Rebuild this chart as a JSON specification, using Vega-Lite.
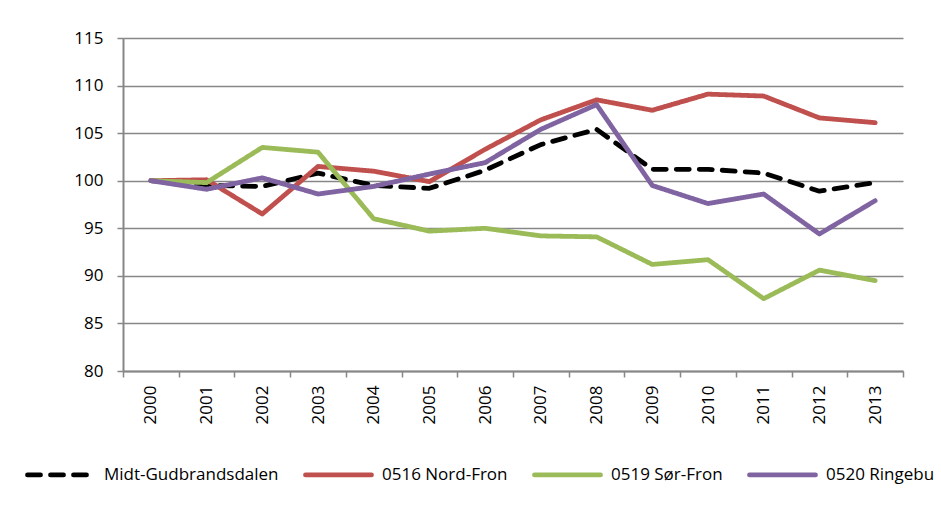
{
  "$schema": "https://vega.github.io/schema/vega-lite/v6.json",
  "width": 780,
  "height": 333,
  "autosize": "none",
  "padding": {"left": 123, "top": 38, "right": 38, "bottom": 151},
  "background": "white",
  "config": {
    "view": {"stroke": null},
    "font": "Open Sans",
    "axis": {"labelFont": "Open Sans", "labelFontSize": 17, "labelColor": "#000000", "titleFont": "Open Sans"},
    "legend": {"labelFont": "Open Sans"}
  },
  "data": {
    "values": [
      {"year": "2000", "series": "Midt-Gudbrandsdalen", "value": 100.0},
      {"year": "2001", "series": "Midt-Gudbrandsdalen", "value": 99.5},
      {"year": "2002", "series": "Midt-Gudbrandsdalen", "value": 99.4},
      {"year": "2003", "series": "Midt-Gudbrandsdalen", "value": 100.8},
      {"year": "2004", "series": "Midt-Gudbrandsdalen", "value": 99.5},
      {"year": "2005", "series": "Midt-Gudbrandsdalen", "value": 99.2},
      {"year": "2006", "series": "Midt-Gudbrandsdalen", "value": 101.1},
      {"year": "2007", "series": "Midt-Gudbrandsdalen", "value": 103.8},
      {"year": "2008", "series": "Midt-Gudbrandsdalen", "value": 105.4},
      {"year": "2009", "series": "Midt-Gudbrandsdalen", "value": 101.2},
      {"year": "2010", "series": "Midt-Gudbrandsdalen", "value": 101.2},
      {"year": "2011", "series": "Midt-Gudbrandsdalen", "value": 100.8},
      {"year": "2012", "series": "Midt-Gudbrandsdalen", "value": 98.9},
      {"year": "2013", "series": "Midt-Gudbrandsdalen", "value": 99.8},
      {"year": "2000", "series": "0516 Nord-Fron", "value": 100.0},
      {"year": "2001", "series": "0516 Nord-Fron", "value": 100.1},
      {"year": "2002", "series": "0516 Nord-Fron", "value": 96.5},
      {"year": "2003", "series": "0516 Nord-Fron", "value": 101.5},
      {"year": "2004", "series": "0516 Nord-Fron", "value": 101.0},
      {"year": "2005", "series": "0516 Nord-Fron", "value": 99.9},
      {"year": "2006", "series": "0516 Nord-Fron", "value": 103.3},
      {"year": "2007", "series": "0516 Nord-Fron", "value": 106.4},
      {"year": "2008", "series": "0516 Nord-Fron", "value": 108.5},
      {"year": "2009", "series": "0516 Nord-Fron", "value": 107.4},
      {"year": "2010", "series": "0516 Nord-Fron", "value": 109.1},
      {"year": "2011", "series": "0516 Nord-Fron", "value": 108.9},
      {"year": "2012", "series": "0516 Nord-Fron", "value": 106.6},
      {"year": "2013", "series": "0516 Nord-Fron", "value": 106.1},
      {"year": "2000", "series": "0519 Sør-Fron", "value": 100.0},
      {"year": "2001", "series": "0519 Sør-Fron", "value": 99.8},
      {"year": "2002", "series": "0519 Sør-Fron", "value": 103.5},
      {"year": "2003", "series": "0519 Sør-Fron", "value": 103.0},
      {"year": "2004", "series": "0519 Sør-Fron", "value": 96.0},
      {"year": "2005", "series": "0519 Sør-Fron", "value": 94.7},
      {"year": "2006", "series": "0519 Sør-Fron", "value": 95.0},
      {"year": "2007", "series": "0519 Sør-Fron", "value": 94.2},
      {"year": "2008", "series": "0519 Sør-Fron", "value": 94.1},
      {"year": "2009", "series": "0519 Sør-Fron", "value": 91.2},
      {"year": "2010", "series": "0519 Sør-Fron", "value": 91.7},
      {"year": "2011", "series": "0519 Sør-Fron", "value": 87.6},
      {"year": "2012", "series": "0519 Sør-Fron", "value": 90.6},
      {"year": "2013", "series": "0519 Sør-Fron", "value": 89.5},
      {"year": "2000", "series": "0520 Ringebu", "value": 100.0},
      {"year": "2001", "series": "0520 Ringebu", "value": 99.1},
      {"year": "2002", "series": "0520 Ringebu", "value": 100.3},
      {"year": "2003", "series": "0520 Ringebu", "value": 98.6},
      {"year": "2004", "series": "0520 Ringebu", "value": 99.4},
      {"year": "2005", "series": "0520 Ringebu", "value": 100.7},
      {"year": "2006", "series": "0520 Ringebu", "value": 101.9},
      {"year": "2007", "series": "0520 Ringebu", "value": 105.4},
      {"year": "2008", "series": "0520 Ringebu", "value": 108.0},
      {"year": "2009", "series": "0520 Ringebu", "value": 99.5},
      {"year": "2010", "series": "0520 Ringebu", "value": 97.6},
      {"year": "2011", "series": "0520 Ringebu", "value": 98.6},
      {"year": "2012", "series": "0520 Ringebu", "value": 94.4},
      {"year": "2013", "series": "0520 Ringebu", "value": 97.9}
    ]
  },
  "mark": {"type": "line", "strokeWidth": 4.8, "strokeCap": "round", "strokeJoin": "round"},
  "encoding": {
    "x": {
      "field": "year",
      "type": "ordinal",
      "bandPosition": 0.5,
      "scale": {"type": "band", "paddingInner": 0, "paddingOuter": 0},
      "axis": {
        "title": null,
        "labelAngle": -90,
        "labelPadding": 8,
        "tickBand": "extent",
        "tickSize": 6,
        "tickColor": "#878787",
        "tickWidth": 1.5,
        "domainColor": "#878787",
        "domainWidth": 2,
        "grid": false
      }
    },
    "y": {
      "field": "value",
      "type": "quantitative",
      "scale": {"domain": [80, 115], "nice": false, "zero": false},
      "axis": {
        "title": null,
        "values": [80, 85, 90, 95, 100, 105, 110, 115],
        "tickSize": 6,
        "tickColor": "#878787",
        "tickWidth": 1.5,
        "labelPadding": 14,
        "domainColor": "#878787",
        "domainWidth": 2,
        "gridColor": "#878787",
        "gridWidth": 1.5
      }
    },
    "color": {
      "field": "series",
      "type": "nominal",
      "sort": ["Midt-Gudbrandsdalen", "0516 Nord-Fron", "0519 Sør-Fron", "0520 Ringebu"],
      "scale": {
        "domain": ["Midt-Gudbrandsdalen", "0516 Nord-Fron", "0519 Sør-Fron", "0520 Ringebu"],
        "range": ["#000000", "#C0504D", "#9BBB59", "#8064A2"]
      },
      "legend": {
        "title": null,
        "orient": "none",
        "legendX": -98,
        "legendY": 401,
        "direction": "horizontal",
        "columns": 4,
        "padding": 0,
        "symbolType": "stroke",
        "symbolSize": 4356,
        "symbolStrokeWidth": 4.8,
        "labelFontSize": 17,
        "labelColor": "#000000",
        "labelOffset": 8,
        "labelLimit": 400,
        "columnPadding": 16,
        "encode": {"symbols": {"update": {"strokeCap": {"value": "round"}}}}
      }
    },
    "strokeDash": {
      "field": "series",
      "type": "nominal",
      "sort": ["Midt-Gudbrandsdalen", "0516 Nord-Fron", "0519 Sør-Fron", "0520 Ringebu"],
      "scale": {
        "domain": ["Midt-Gudbrandsdalen", "0516 Nord-Fron", "0519 Sør-Fron", "0520 Ringebu"],
        "range": [[13, 10], [1, 0], [1, 0], [1, 0]]
      },
      "legend": {
        "title": null,
        "orient": "none",
        "legendX": -98,
        "legendY": 401,
        "direction": "horizontal",
        "columns": 4,
        "padding": 0,
        "symbolType": "stroke",
        "symbolSize": 4356,
        "symbolStrokeWidth": 4.8,
        "labelFontSize": 17,
        "labelColor": "#000000",
        "labelOffset": 8,
        "labelLimit": 400,
        "columnPadding": 16,
        "encode": {"symbols": {"update": {"strokeCap": {"value": "round"}}}}
      }
    }
  }
}
